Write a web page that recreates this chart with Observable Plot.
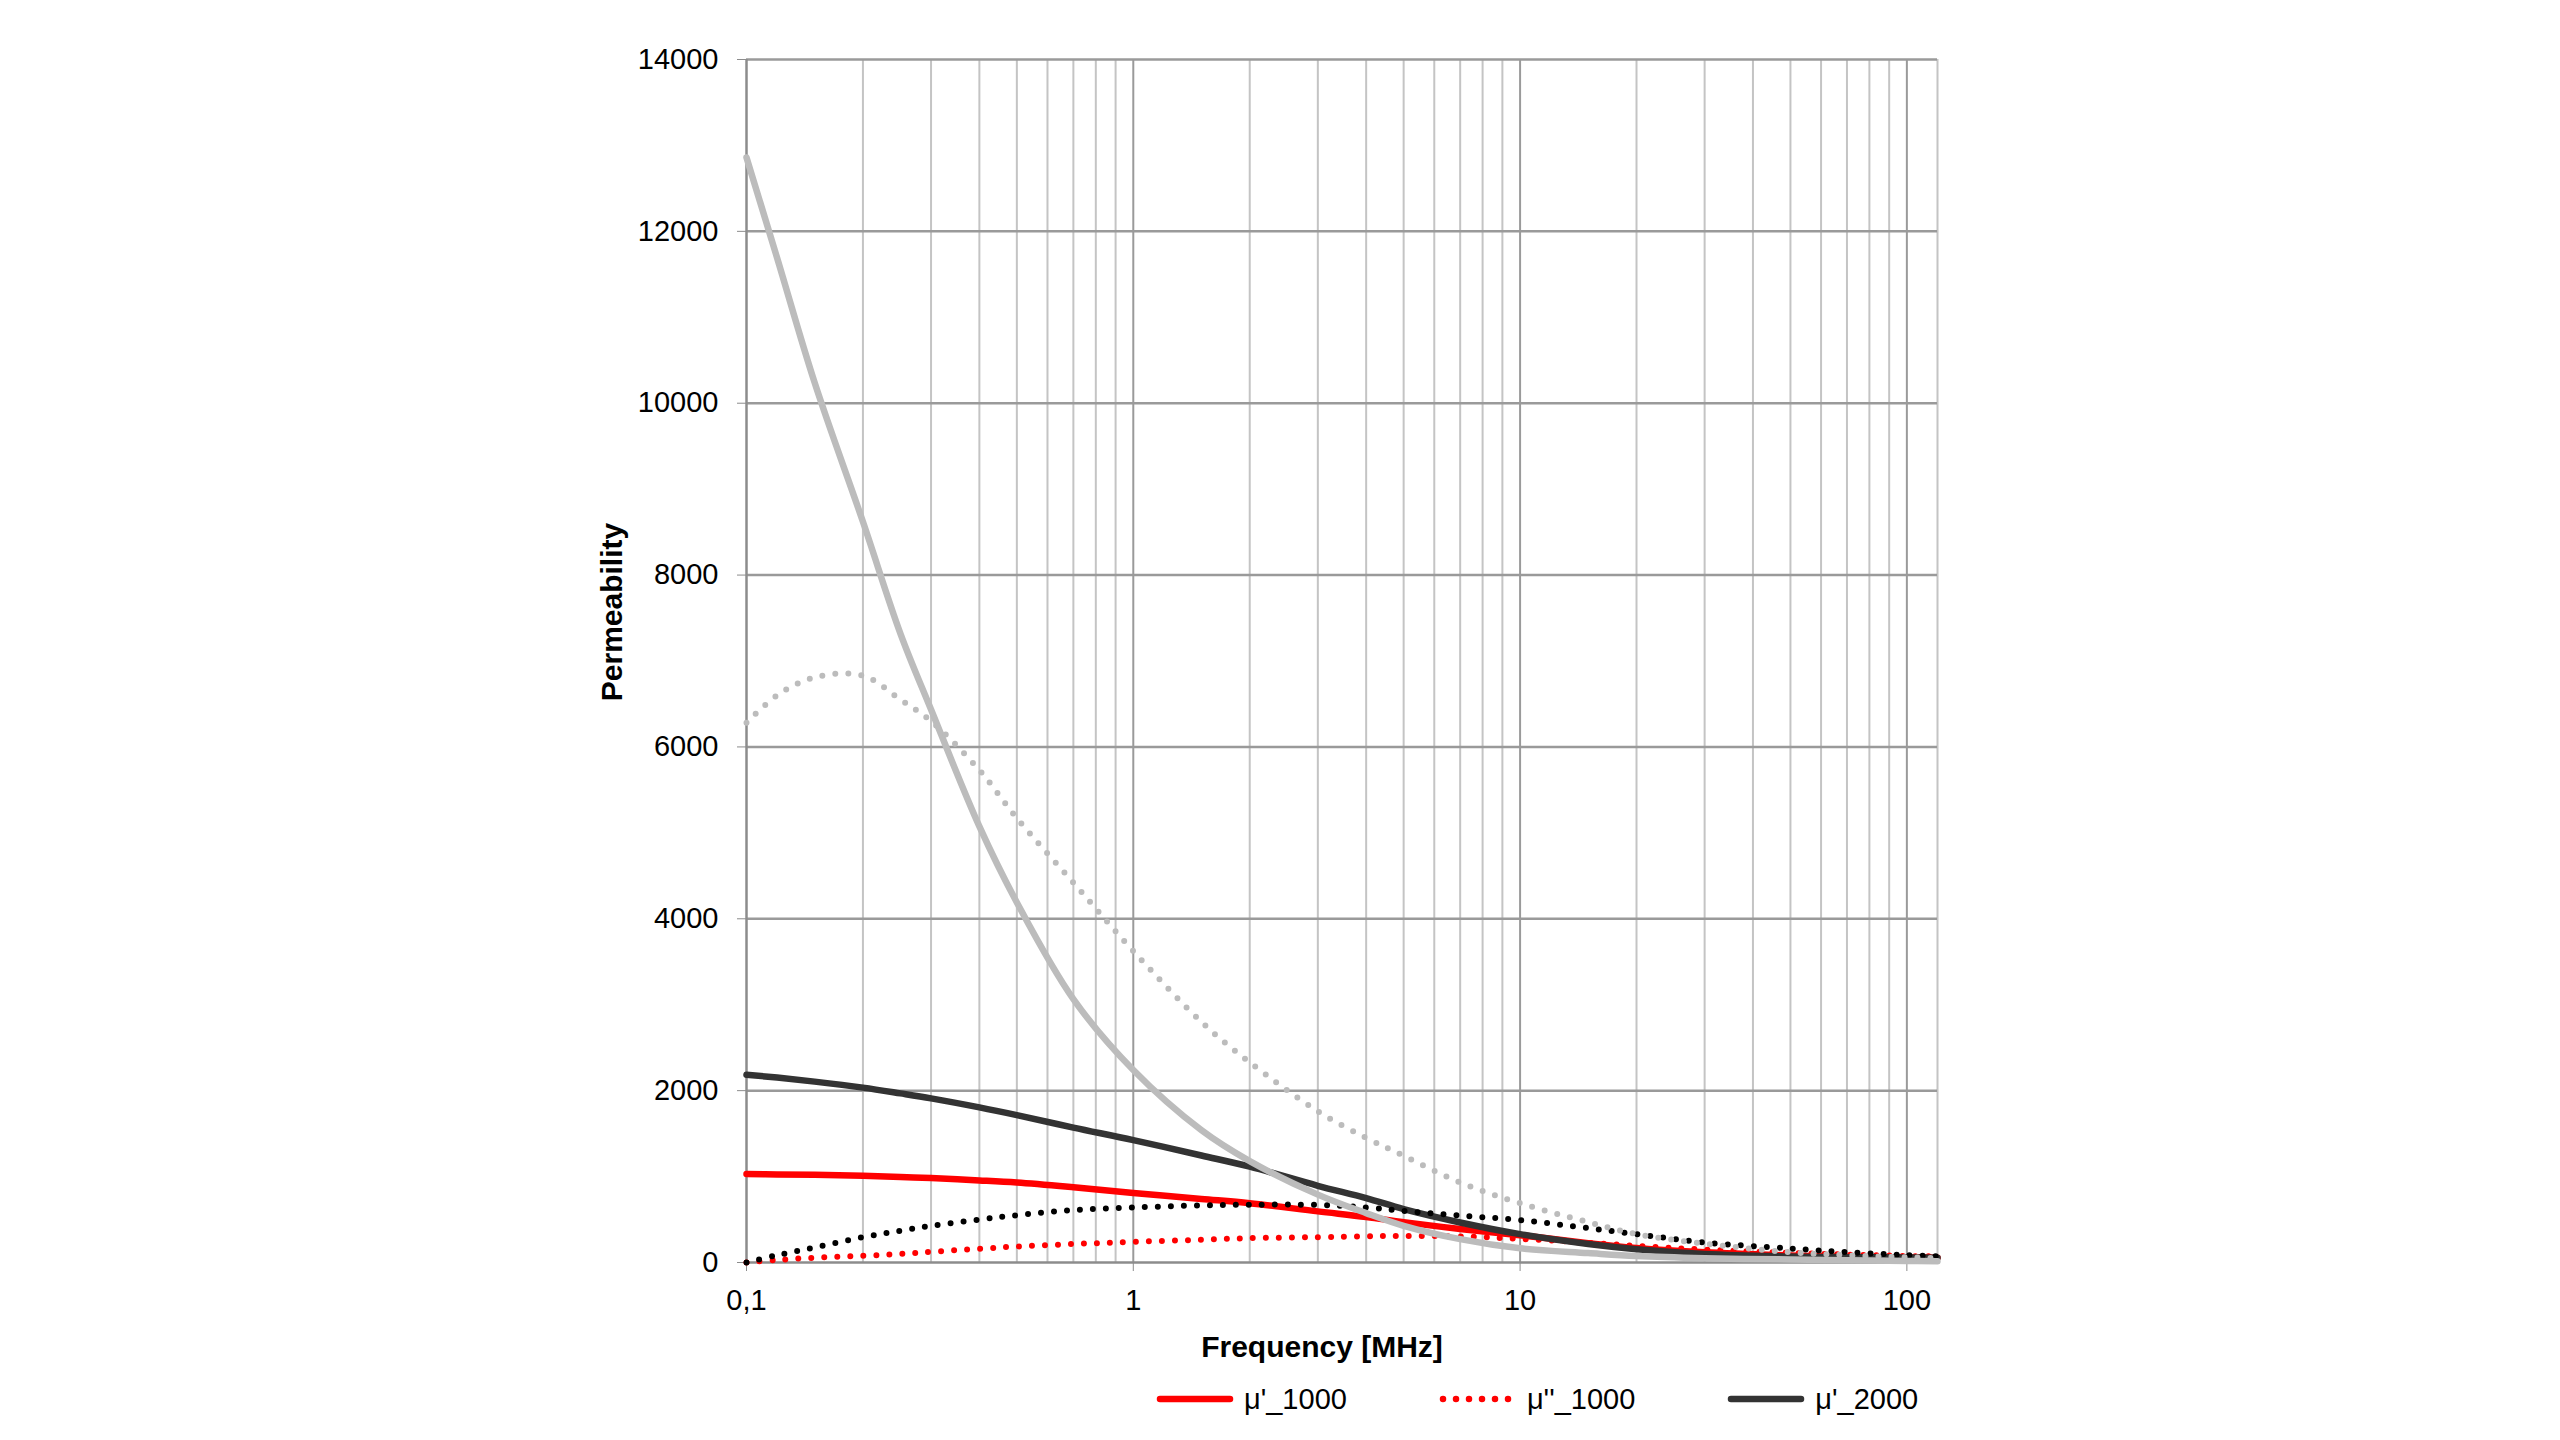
<!DOCTYPE html>
<html><head><meta charset="utf-8">
<script src="https://cdn.jsdelivr.net/npm/d3@7"></script>
<script src="https://cdn.jsdelivr.net/npm/@observablehq/plot@0.6"></script>
<style>
html,body{margin:0;padding:0;background:#fff;}
body{font-family:"Liberation Sans",Arial,sans-serif;width:2560px;}
#legend{width:2560px;height:65px;box-sizing:border-box;padding:0 0 17px 1156px;display:flex;align-items:center;gap:92px;}
.item{display:flex;align-items:center;font-size:29px;color:#000;}
.item svg{margin-right:10px;}
</style></head><body>
<div id="chart"></div>
<div id="legend"></div>
<script>
// Frequency points (MHz)
const freq = [0.1, 0.12, 0.15, 0.2, 0.25, 0.3, 0.4, 0.5, 0.7, 1, 1.5, 2, 3, 4, 5, 7, 10, 15, 20, 30, 50, 70, 100, 120];
// Series values
const mu1_1000  = [1030, 1025, 1020, 1010, 995, 982, 955, 930, 875, 810, 740, 690, 595, 530, 470, 390, 318, 225, 168, 118, 82, 66, 58, 55];
const mu2_1000  = [0, 30, 55, 78, 100, 124, 160, 186, 215, 240, 265, 283, 295, 305, 308, 303, 275, 230, 194, 150, 112, 92, 76, 70];
const mu1_2000  = [2185, 2152, 2105, 2035, 1968, 1910, 1805, 1715, 1570, 1425, 1245, 1115, 893, 750, 621, 466, 330, 215, 155, 100, 70, 62, 58, 55];
const mu2_2000  = [0, 85, 175, 295, 370, 427, 500, 550, 610, 640, 665, 672, 670, 640, 600, 545, 493, 400, 330, 233, 163, 120, 85, 72];
const mu1_10000 = [12860, 11690, 10240, 8620, 7320, 6436, 5075, 4190, 3065, 2240, 1540, 1180, 790, 575, 427, 272, 165, 110, 75, 50, 35, 25, 18, 15];
const mu2_10000 = [6280, 6600, 6810, 6830, 6550, 6300, 5730, 5170, 4420, 3625, 2800, 2329, 1760, 1451, 1242, 930, 690, 470, 330, 220, 120, 85, 60, 52];

const seriesNames  = ["μ'_1000", "μ''_1000", "μ'_2000", "μ''_2000", "μ'_10000", "μ''_10000"];
const seriesValues = [mu1_1000, mu2_1000, mu1_2000, mu2_2000, mu1_10000, mu2_10000];
const seriesColors = ["#ff0000", "#ff0000", "#333333", "#000000", "#bcbcbc", "#bcbcbc"];
const seriesDotted = [false, true, false, true, false, true];
const legendSeries = [0, 1, 2];

// Axis ticks
const decadeTicks = [0.1, 1, 10, 100];
const minorTicks = [0.2,0.3,0.4,0.5,0.6,0.7,0.8,0.9, 2,3,4,5,6,7,8,9, 20,30,40,50,60,70,80,90];
const yTicks = [0, 2000, 4000, 6000, 8000, 10000, 12000, 14000];
const xDomain = [0.1, 120];
const yDomain = [0, 14000];

const rows = seriesValues.flatMap((vals, i) => vals.map((v, j) => ({f: freq[j], v, s: i})));

const lineMarks = seriesNames.map((name, i) => Plot.line(rows.filter(r => r.s === i), {
  x: "f", y: "v",
  stroke: seriesColors[i],
  strokeWidth: seriesDotted[i] ? 6 : 6.5,
  strokeDasharray: seriesDotted[i] ? "0,13" : undefined,
  strokeLinecap: "round",
  strokeLinejoin: "round",
  curve: "catmull-rom"
}));

const chart = Plot.plot({
  width: 2560,
  height: 1375,
  marginLeft: 746,
  marginRight: 623,
  marginTop: 59,
  marginBottom: 113,
  style: {fontFamily: '"Liberation Sans", Arial, sans-serif', background: "#fff", color: "#000"},
  x: {type: "log", domain: xDomain},
  y: {domain: yDomain},
  marks: [
    Plot.ruleX(minorTicks, {stroke: "#c4c4c4", strokeWidth: 2}),
    Plot.ruleX([xDomain[1]], {stroke: "#c4c4c4", strokeWidth: 2}),
    Plot.ruleX(decadeTicks.slice(1), {stroke: "#9a9a9a", strokeWidth: 2}),
    Plot.ruleY(yTicks.slice(1), {stroke: "#9a9a9a", strokeWidth: 2.5}),
    Plot.ruleX([xDomain[0]], {stroke: "#8c8c8c", strokeWidth: 2.5}),
    Plot.ruleY([yDomain[0]], {stroke: "#8c8c8c", strokeWidth: 2.5}),
    Plot.axisX({ticks: decadeTicks, tickFormat: d => d === 0.1 ? "0,1" : String(d), tickSize: 9, tickPadding: 18, stroke: "#8c8c8c", fill: "#000", fontSize: 29, label: null}),
    Plot.axisY({ticks: yTicks, tickFormat: d => String(d), tickSize: 9, tickPadding: 19, stroke: "#8c8c8c", fill: "#000", fontSize: 29, label: null}),
    ...lineMarks,
    Plot.text(["Permeability"], {text: d => d, frameAnchor: "left", textAnchor: "middle", lineAnchor: "middle", dx: -134, dy: -49, rotate: -90, fontSize: 30, fontWeight: "bold", fill: "#000"}),
    Plot.text(["Frequency [MHz]"], {text: d => d, frameAnchor: "bottom", textAnchor: "middle", lineAnchor: "middle", dx: -20, dy: 85, fontSize: 30, fontWeight: "bold", fill: "#000"})
  ]
});
document.getElementById("chart").appendChild(chart);

// Legend
const legend = document.getElementById("legend");
legendSeries.forEach(i => {
  const item = document.createElement("div");
  item.className = "item";
  const ns = "http://www.w3.org/2000/svg";
  const svg = document.createElementNS(ns, "svg");
  svg.setAttribute("width", "78"); svg.setAttribute("height", "20");
  const ln = document.createElementNS(ns, "line");
  ln.setAttribute("x1", "4"); ln.setAttribute("x2", "74");
  ln.setAttribute("y1", "10"); ln.setAttribute("y2", "10");
  ln.setAttribute("stroke", seriesColors[i]);
  ln.setAttribute("stroke-width", "6.5");
  ln.setAttribute("stroke-linecap", "round");
  if (seriesDotted[i]) ln.setAttribute("stroke-dasharray", "0,13");
  svg.appendChild(ln);
  item.appendChild(svg);
  const t = document.createElement("span");
  t.textContent = seriesNames[i];
  item.appendChild(t);
  legend.appendChild(item);
});
</script>
</body></html>
